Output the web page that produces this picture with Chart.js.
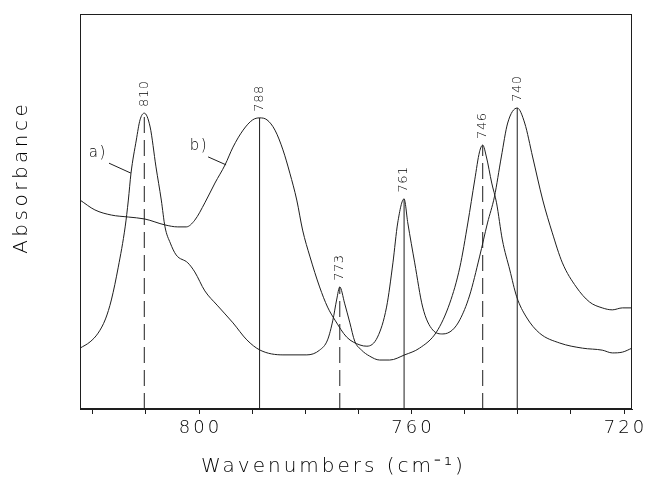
<!DOCTYPE html>
<html>
<head>
<meta charset="utf-8">
<script src="https://cdn.jsdelivr.net/npm/chart.js@4.4.1/dist/chart.umd.min.js"></script>
<style>
  html, body { margin: 0; padding: 0; background: #fff; }
  #chart { display: block; }
</style>
</head>
<body>
<canvas id="chart" width="647" height="480"></canvas>
<script>
// ---- data ----
const waveA = [822.4, 820.5, 819.0, 817.6, 816.5, 815.2, 813.9, 813.3, 812.8, 811.8, 811.1, 810.3,
  809.2, 808.1, 807.1, 806.4, 805.4, 804.3, 802.1, 800.8, 798.9, 796.6, 793.6, 791.0,
  788.5, 784.2, 779.7, 777.3, 775.8, 774.8, 774.1, 773.5, 772.6, 771.6, 770.7, 769.4,
  767.9, 766.0, 764.1, 761.3, 758.5, 755.3, 752.8, 750.9, 749.4, 748.1, 747.2, 746.6,
  745.9, 744.9, 744.0, 742.9, 741.5, 740.2, 738.4, 735.9, 732.1, 727.8, 724.1, 722.2,
  720.3, 718.5];
const absA = [15.4, 17.0, 19.2, 22.8, 27.6, 35.9, 46.1, 52.9, 59.7, 68.1, 73.2, 74.9,
  71.4, 61.3, 52.9, 46.1, 42.0, 39.0, 37.0, 34.7, 29.9, 26.3, 21.8, 17.5,
  14.9, 13.7, 13.7, 14.9, 17.5, 22.5, 27.6, 30.9, 26.8, 21.8, 17.2, 14.9,
  13.4, 12.4, 12.4, 13.7, 15.4, 19.5, 26.8, 35.9, 47.1, 58.0, 65.1, 66.8,
  63.8, 57.2, 52.2, 42.8, 35.2, 28.4, 23.3, 19.2, 16.7, 15.4, 14.9, 14.2,
  14.4, 15.4];

const waveB = [822.4, 819.6, 816.5, 813.3, 810.2, 806.4, 804.0, 802.4, 800.8, 798.9,
  797.0, 795.1, 793.6, 791.7, 789.9, 788.6, 787.2, 785.7, 784.2, 782.9, 781.6, 780.5,
  779.1, 777.3, 775.8, 774.4, 772.2, 769.7, 768.4, 766.4, 764.7, 763.5, 762.6, 761.4,
  760.7, 759.4, 757.9, 756.0, 754.1, 752.3, 750.9, 749.1, 747.2, 745.7, 744.4, 743.1,
  741.9, 740.1, 738.7, 737.2, 735.3, 733.5, 731.6, 729.0, 726.5, 724.1, 722.2, 720.3,
  718.5];
const absB = [52.9, 50.4, 49.1, 48.6, 48.1, 46.6, 46.1, 46.1, 47.8, 52.2,
  57.2, 61.8, 66.3, 70.6, 73.2, 73.7, 73.2, 70.6, 65.6, 59.7, 52.9, 45.3,
  38.5, 30.9, 25.8, 22.5, 18.2, 16.2, 15.9, 18.2, 25.8, 37.0, 47.1, 53.2,
  47.1, 37.0, 25.8, 20.0, 19.0, 20.0, 22.6, 28.6, 38.5, 47.1, 53.7, 63.8,
  72.4, 76.2, 72.4, 63.8, 52.9, 44.6, 37.0, 30.9, 27.1, 25.6, 25.1, 25.6,
  25.6];

// peak markers (dashed = a, solid = b)
const peaksA = [810.3, 773.5, 746.6];
const peakHeightsA = [74.9, 30.9, 66.8];
const peakLabelsA = ['810', '773', '746'];
const peaksB = [788.6, 761.4, 740.1];
const peakHeightsB = [73.7, 53.2, 76.2];
const peakLabelsB = ['788', '761', '740'];

// axis
const xTickValues = [820, 810, 800, 790, 780, 770, 760, 750, 740, 730, 720];
const xLabelValues = [800, 760, 720];
const xMin = 718.5, xMax = 822.4;

// where the "a)" / "b)" leaders touch their curves
const curveTagWave = { a: 812.8, b: 794.9 };
const curveTagAbs  = { a: 59.7,  b: 61.8 };

const INK = '#1e1e1e';

function toPoints(xs, ys) {
  return xs.map((x, i) => ({ x, y: ys[i] }));
}

const datasets = [];
peaksA.forEach((p, i) => {
  datasets.push({
    data: [{ x: p, y: 0 }, { x: p, y: peakHeightsA[i] }],
    borderColor: INK, borderWidth: 1, borderDash: [16, 7], pointRadius: 0, showLine: true,
  });
});
peaksB.forEach((p, i) => {
  datasets.push({
    data: [{ x: p, y: 0 }, { x: p, y: peakHeightsB[i] }],
    borderColor: INK, borderWidth: 1, pointRadius: 0, showLine: true,
  });
});
datasets.push({
  data: toPoints(waveA, absA),
  borderColor: INK, borderWidth: 1, pointRadius: 0, showLine: true, cubicInterpolationMode: 'monotone',
});
datasets.push({
  data: toPoints(waveB, absB),
  borderColor: INK, borderWidth: 1, pointRadius: 0, showLine: true, cubicInterpolationMode: 'monotone',
});

function spacedText(ctx, text, x, y, spacing) {
  ctx.letterSpacing = spacing + 'px';
  ctx.fillText(text, x + spacing / 2, y);
  ctx.letterSpacing = '0px';
}

const decorations = {
  id: 'decorations',
  afterDraw(chart) {
    const { ctx, chartArea: ca, scales: { x, y } } = chart;
    ctx.save();

    // frame around the plot
    ctx.strokeStyle = INK;
    ctx.lineWidth = 1;
    ctx.strokeRect(Math.round(ca.left) + 0.5, Math.round(ca.top) + 0.5,
      Math.round(ca.width) - 1, Math.round(ca.height) - 1);

    ctx.fillStyle = '#000';

    // x tick labels
    ctx.font = '200 18px "DejaVu Sans"';
    ctx.textAlign = 'center';
    ctx.textBaseline = 'middle';
    xLabelValues.forEach(v => spacedText(ctx, String(v), x.getPixelForValue(v), 428, 3));

    // axis titles
    ctx.font = '200 20px "DejaVu Sans"';
    spacedText(ctx, 'Wavenumbers (cm\u207B\u00B9)', 332, 467, 3);
    ctx.save();
    ctx.translate(22, 179);
    ctx.rotate(-Math.PI / 2);
    spacedText(ctx, 'Absorbance', 0, 0, 3.5);
    ctx.restore();

    // peak labels, rotated
    ctx.font = '200 13px "DejaVu Sans"';
    ctx.textAlign = 'left';
    const label = (p, h, t) => {
      ctx.save();
      ctx.translate(x.getPixelForValue(p), y.getPixelForValue(h) - 6);
      ctx.rotate(-Math.PI / 2);
      spacedText(ctx, t, 0, 0, 0.5);
      ctx.restore();
    };
    peaksA.forEach((p, i) => label(p, peakHeightsA[i], peakLabelsA[i]));
    peaksB.forEach((p, i) => label(p, peakHeightsB[i], peakLabelsB[i]));

    // curve tags with leader lines
    ctx.font = '200 15px "DejaVu Sans"';
    ctx.textAlign = 'center';
    const tag = (key, text, lead, txt) => {
      const px = x.getPixelForValue(curveTagWave[key]);
      const py = y.getPixelForValue(curveTagAbs[key]);
      ctx.beginPath();
      ctx.moveTo(px + lead[0], py + lead[1]);
      ctx.lineTo(px, py);
      ctx.stroke();
      spacedText(ctx, text, px + txt[0], py + txt[1], 1.5);
    };
    tag('a', 'a)', [-22, -10], [-34, -20]);
    tag('b', 'b)', [-18, -8], [-28, -19]);

    ctx.restore();
  }
};

new Chart(document.getElementById('chart'), {
  type: 'scatter',
  data: { datasets },
  options: {
    responsive: false,
    animation: false,
    devicePixelRatio: 1,
    layout: { padding: { left: 80, right: 15, top: 14, bottom: 0 } },
    plugins: { legend: { display: false }, tooltip: { enabled: false } },
    scales: {
      x: {
        type: 'linear',
        reverse: true,
        min: xMin,
        max: xMax,
        afterBuildTicks: s => { s.ticks = xTickValues.map(v => ({ value: v })); },
        afterFit: s => { s.height = 71; },
        ticks: { display: false },
        grid: { display: true, drawOnChartArea: false, drawTicks: true, tickLength: 5, color: INK, lineWidth: 1 },
        border: { display: true, color: INK, width: 1 },
      },
      y: {
        display: false,
        min: 0,
        max: 100,
      },
    },
  },
  plugins: [decorations],
});
</script>
</body>
</html>
